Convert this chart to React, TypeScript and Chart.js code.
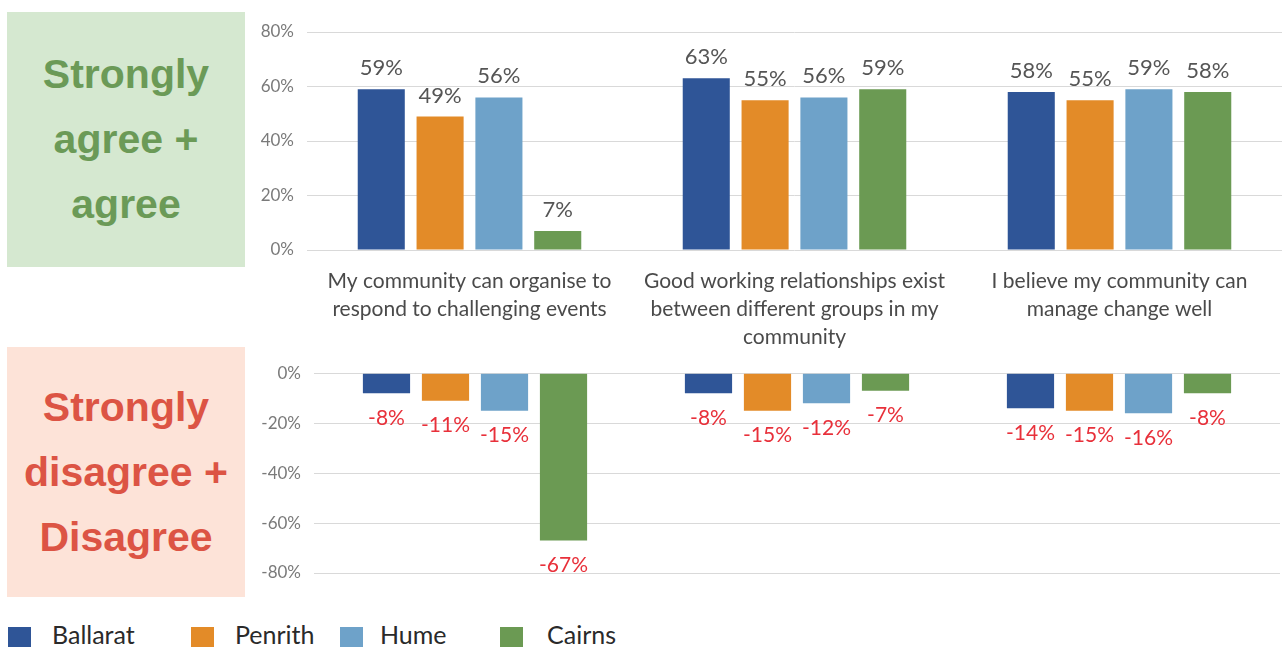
import React, { useEffect, useRef } from "react";
import { Chart, registerables } from "chart.js";

Chart.register(...registerables);

// ---- data ----
const categories: string[][] = [
  ["My community can organise to", "respond to challenging events"],
  ["Good working relationships exist", "between different groups in my", "community"],
  ["I believe my community can", "manage change well"],
];
const seriesNames = ["Ballarat", "Penrith", "Hume", "Cairns"];
const seriesColors = ["#2f5597", "#e38b28", "#6ea2c9", "#6b9a53"];

const agreeBallarat = [59, 63, 58];
const agreePenrith = [49, 55, 55];
const agreeHume = [56, 56, 59];
const agreeCairns = [7, 59, 58];

const disagreeBallarat = [-8, -8, -14];
const disagreePenrith = [-11, -15, -15];
const disagreeHume = [-15, -12, -16];
const disagreeCairns = [-67, -7, -8];

const topTickRange = { min: 0, max: 80, step: 20 };
const bottomTickRange = { min: -80, max: 0, step: 20 };

const agreeSeries = [agreeBallarat, agreePenrith, agreeHume, agreeCairns];
const disagreeSeries = [disagreeBallarat, disagreePenrith, disagreeHume, disagreeCairns];

const labelFont = "Lato, 'Open Sans', sans-serif";

function makeValueLabels(color: string, font: string, offset: number) {
  return {
    id: "valueLabels",
    afterDatasetsDraw(chart: any) {
      const ctx = chart.ctx;
      ctx.save();
      ctx.font = font;
      ctx.fillStyle = color;
      ctx.textAlign = "center";
      ctx.textBaseline = "middle";
      chart.data.datasets.forEach((ds: any, i: number) => {
        chart.getDatasetMeta(i).data.forEach((el: any, j: number) => {
          ctx.fillText(`${ds.data[j]}%`, el.x, el.y + offset);
        });
      });
      ctx.restore();
    },
  };
}

function BarPanel(props: {
  series: number[][];
  range: { min: number; max: number; step: number };
  showCategories: boolean;
  width: number;
  height: number;
  yWidth: number;
  padding: any;
  xHeight: number;
  catPct: number;
  labelColor: string;
  labelFontSize: number;
  labelOffset: number;
}) {
  const ref = useRef<HTMLCanvasElement | null>(null);
  useEffect(() => {
    if (!ref.current) return;
    const chart = new Chart(ref.current, {
      type: "bar",
      data: {
        labels: categories,
        datasets: props.series.map((d, i) => ({
          label: seriesNames[i],
          data: d,
          backgroundColor: seriesColors[i],
          borderWidth: 0,
          categoryPercentage: props.catPct,
          barPercentage: 0.8,
        })),
      },
      options: {
        responsive: false,
        animation: false,
        devicePixelRatio: 1,
        layout: { padding: props.padding },
        plugins: { legend: { display: false }, tooltip: { enabled: false } },
        scales: {
          x: {
            display: props.showCategories,
            grid: { display: false },
            border: { display: false },
            ticks: {
              autoSkip: false,
              maxRotation: 0,
              minRotation: 0,
              color: "#4a4a4a",
              font: { family: labelFont, size: 21, lineHeight: 1.333 },
              padding: 9,
            },
            afterFit: (s: any) => {
              s.height = props.xHeight;
            },
          },
          y: {
            min: props.range.min,
            max: props.range.max,
            border: { display: false },
            grid: { color: "#d9d9d9", lineWidth: 1, drawTicks: false },
            ticks: {
              stepSize: props.range.step,
              padding: 13,
              color: "#7a7a7a",
              font: { family: labelFont, size: 17 },
              callback: (v: any) => `${v}%`,
            },
            afterFit: (s: any) => {
              s.width = props.yWidth;
            },
          },
        },
      },
      plugins: [
        makeValueLabels(
          props.labelColor,
          `${props.labelFontSize}px ${labelFont}`,
          props.labelOffset
        ),
      ],
    } as any);
    return () => chart.destroy();
  }, []);
  return (
    <canvas
      ref={ref}
      width={props.width}
      height={props.height}
      style={{ width: props.width, height: props.height, display: "block" }}
    />
  );
}

const boxText: React.CSSProperties = {
  position: "absolute",
  left: 7,
  width: 238,
  display: "flex",
  alignItems: "center",
  justifyContent: "center",
  textAlign: "center",
  fontFamily: "'Liberation Sans', Arial, sans-serif",
  fontWeight: 700,
  fontSize: 41,
  lineHeight: "65px",
};

export default function App() {
  return (
    <div
      style={{
        position: "absolute",
        left: 0,
        top: 0,
        width: 1285,
        height: 647,
        background: "#ffffff",
        overflow: "hidden",
      }}
    >
      <div style={{ ...boxText, top: 12, height: 255, background: "#d5e8d0", color: "#6b9a57" }}>
        <div>
          Strongly
          <br />
          agree +
          <br />
          agree
        </div>
      </div>
      <div style={{ ...boxText, top: 347, height: 250, background: "#fde3d8", color: "#dc5444" }}>
        <div>
          Strongly
          <br />
          disagree +
          <br />
          Disagree
        </div>
      </div>

      <div style={{ position: "absolute", left: 245, top: 0 }}>
        <BarPanel
          series={agreeSeries}
          range={topTickRange}
          showCategories={true}
          width={1040}
          height={352}
          yWidth={62}
          padding={{ top: 32, right: 3, left: 0, bottom: 0 }}
          xHeight={102}
          catPct={0.724}
          labelColor="#555555"
          labelFontSize={22}
          labelOffset={-21}
        />
      </div>
      <div style={{ position: "absolute", left: 245, top: 350 }}>
        <BarPanel
          series={disagreeSeries}
          range={bottomTickRange}
          showCategories={false}
          width={1040}
          height={250}
          yWidth={69}
          padding={{ top: 23, right: 5, left: 0, bottom: 27 }}
          xHeight={0}
          catPct={0.733}
          labelColor="#e8303a"
          labelFontSize={21}
          labelOffset={25}
        />
      </div>

      {seriesNames.map((n, i) => {
        const sq = [8, 191, 340, 500][i];
        const tx = [52, 235, 380, 547][i];
        return (
          <React.Fragment key={n}>
            <div
              style={{
                position: "absolute",
                left: sq,
                top: 627,
                width: 23,
                height: 23,
                background: seriesColors[i],
              }}
            />
            <div
              style={{
                position: "absolute",
                left: tx,
                top: 618,
                fontFamily: labelFont,
                fontSize: 25,
                lineHeight: "32px",
                color: "#2a2a2a",
              }}
            >
              {n}
            </div>
          </React.Fragment>
        );
      })}
    </div>
  );
}
